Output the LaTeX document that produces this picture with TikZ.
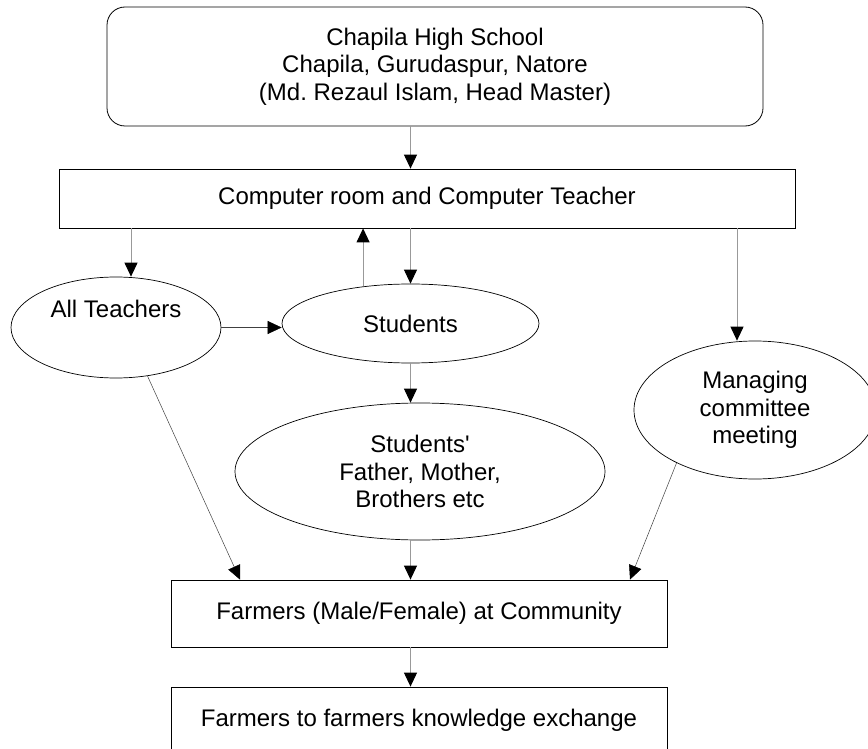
\documentclass[tikz,border=0pt]{standalone}
\usepackage{fontspec}
\setmainfont{Liberation Sans}
\usetikzlibrary{shapes.geometric,arrows.meta}
\frenchspacing

\tikzset{
  box/.style={draw=black, line width=0.8pt, align=center, inner sep=2pt},
  oval/.style={ellipse, draw=black, line width=0.7pt, align=center, inner sep=1pt},
  conn/.style={draw=gray!80, line width=1pt, -{Triangle[black,length=14pt,width=13pt]}},
  thinconn/.style={draw=black!75, line width=0.5pt, -{Triangle[black,length=14pt,width=13pt]}}
}

\begin{document}
\begin{tikzpicture}[x=1pt, y=-1pt, font=\fontsize{24}{27.6}\selectfont]
      \useasboundingbox (0, 0) rectangle (868, 749);
      \clip (0, 0) rectangle (868, 749);
      \node [box, rounded corners=18pt, minimum width=656pt, minimum height=119pt] (school) at (435, 66.5)
        {Chapila High School\\Chapila, Gurudaspur, Natore\\(Md. Rezaul Islam, Head Master)};
      \node [box, minimum width=736pt, minimum height=59pt] (lab) at (427, 198.5) {Computer room and Computer Teacher};
      \node [oval, minimum width=210pt, minimum height=101pt] (teachers) at (116, 327.5) {All Teachers\\[10pt]\mbox{}};
      \node [oval, minimum width=257pt, minimum height=79pt] (students) at (410.5, 323.5) {Students};
      \node [oval, minimum width=370pt, minimum height=137pt] (family) at (420, 471.5) {Students\textquotesingle\\Father, Mother,\\Brothers etc};
      \node [oval, minimum width=242pt, minimum height=138pt] (committee) at (755, 410) {Managing\\committee\\meeting};
      \node [box, minimum width=496pt, minimum height=67pt] (farmers) at (419, 613.5) {Farmers (Male/Female) at Community};
      \node [box, minimum width=496pt, minimum height=67pt] (exchange) at (419, 720.5) {Farmers to farmers knowledge exchange};
      % main line down the middle
      \foreach \from/\to in {school/lab, lab/students, students/family, family/farmers, farmers/exchange} {
        \draw [conn] (\from.south -| students.north) -- (\to.north -| students.north);
      }
      \draw [conn] (students.142) -- (students.142 |- lab.south);
      \draw [conn] ([xshift=15pt]lab.south -| teachers.north) -- ([xshift=15pt]teachers.north);
      \draw [conn] ([xshift=-18pt]committee.north |- lab.south) -- ([xshift=-18pt]committee.north);
      \draw [thinconn] (teachers.east) -- (teachers.east -| students.west);
      % into the farmers box
      \draw [thinconn] (teachers.-57) -- ([xshift=-179pt]farmers.north);
      \draw [thinconn] (committee.214) -- ([xshift=211pt]farmers.north);
    \end{tikzpicture}
\end{document}
